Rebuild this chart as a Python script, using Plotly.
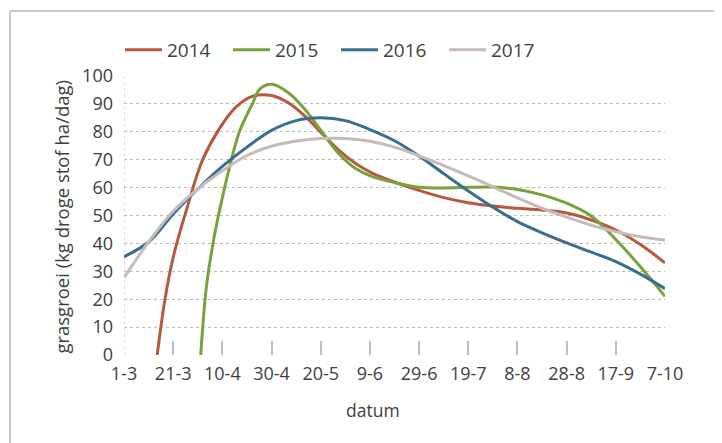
import plotly.graph_objects as go

# tick labels (every 20 days from 1 March)
tick_days = [0, 20, 40, 60, 80, 100, 120, 140, 160, 180, 200, 220]
tick_labels = ["1-3", "21-3", "10-4", "30-4", "20-5", "9-6", "29-6", "19-7", "8-8", "28-8", "17-9", "7-10"]

# days since 1 March and grass growth (kg droge stof/ha/dag)
days_2014 = [13.5, 16.6, 20, 25.4, 32, 39, 45.7, 52.4, 60, 66.8, 73.6, 80.3, 87.1, 93.9, 100.7,
             110, 120, 130, 140, 150, 160, 170, 180, 190, 200, 210, 220]
vals_2014 = [0, 19.6, 35, 52, 70, 81.4, 89, 92.8, 93, 90.4, 85.6, 79.6, 73.6, 68.8, 65.3,
             62.0, 59.0, 56.4, 54.6, 53.4, 52.6, 52.0, 50.9, 48.4, 44.8, 39.6, 33]

days_2015 = [31.2, 33.5, 36.2, 38.9, 43, 47, 52.4, 55.1, 60, 66.8, 73.6, 80.3, 87.1, 93.9, 100.7,
             110, 120, 130, 140, 150, 160, 170, 180, 190, 200, 210, 220]
vals_2015 = [0, 24.4, 40, 52, 67.6, 80.2, 90.4, 95.2, 97, 94, 88, 80.2, 72.4, 67, 64,
             61.8, 60.1, 59.9, 60.1, 60.2, 59.3, 57.4, 54.4, 49.8, 41.4, 31.6, 21]

days_2016 = [0, 10, 20, 30, 40, 50, 60, 70, 80, 90, 100, 110, 120, 130, 140, 150, 160, 170,
             180, 190, 200, 210, 220]
vals_2016 = [35.2, 40.5, 50.5, 59.5, 67.6, 74.5, 80.5, 84, 85, 84, 80.8, 76.8, 71.3, 65,
             58.8, 53, 47.8, 43.8, 40.2, 36.9, 33.5, 29, 23.8]

days_2017 = [0, 10, 20, 30, 40, 50, 60, 70, 80, 90, 100, 110, 120, 130, 140, 150, 160, 170,
             180, 190, 200, 210, 220]
vals_2017 = [27.7, 40.5, 51.5, 59.5, 66, 71.5, 74.8, 76.7, 77.6, 77.6, 76.6, 74.5, 71.4, 67.9,
             64.2, 60.3, 56.3, 52.6, 49.4, 46.5, 44.2, 42.4, 41.2]

series = [
    ("2014", days_2014, vals_2014, "#B65A3D"),
    ("2015", days_2015, vals_2015, "#7AA23C"),
    ("2016", days_2016, vals_2016, "#386E8E"),
    ("2017", days_2017, vals_2017, "#C6BBB6"),
]

fig = go.Figure()
for name, xs, ys, col in series:
    fig.add_trace(go.Scatter(x=xs, y=ys, name=name, mode="lines",
                             line=dict(color=col, width=3, shape="spline", smoothing=1.0)))

font_family = "Open Sans, Liberation Sans, sans-serif"
text_col = "#404040"
grid_col = "#BDBDBD"

fig.update_layout(
    width=714, height=435,
    margin=dict(l=116, r=57, t=68, b=88),
    paper_bgcolor="white", plot_bgcolor="white",
    font=dict(family=font_family, size=18, color=text_col),
    showlegend=True,
    legend=dict(orientation="h", x=-4 / 541, xanchor="left", y=1 + 26 / 279, yanchor="middle",
                font=dict(size=19, color=text_col), entrywidth=56, entrywidthmode="pixels",
                itemwidth=37, bgcolor="rgba(0,0,0,0)"),
    xaxis=dict(range=[0, 220], tickvals=tick_days, ticktext=tick_labels,
               showgrid=False, zeroline=False, showline=False,
               ticks="inside", ticklen=14, tickwidth=1.5, tickcolor=grid_col,
               ticklabelstandoff=6, tickfont=dict(size=18, color=text_col)),
    yaxis=dict(range=[0, 100], tickvals=list(range(0, 101, 10)),
               showgrid=True, gridcolor=grid_col, griddash="dot", gridwidth=1,
               zeroline=False, showline=False, ticks="",
               ticklabelstandoff=10, tickfont=dict(size=18, color=text_col)),
    annotations=[
        dict(text="grasgroei (kg droge stof ha/dag)", textangle=-90, showarrow=False,
             xref="paper", yref="paper", x=(62 - 124) / 541, y=0.496,
             xanchor="center", yanchor="middle", font=dict(size=18.5, color=text_col)),
        dict(text="datum", showarrow=False, xref="paper", yref="paper",
             x=(373 - 124) / 541, y=(355 - 410) / 279, xanchor="center", yanchor="middle",
             font=dict(size=17.5, color=text_col)),
    ],
    shapes=[
        dict(type="line", xref="x", yref="paper", x0=0, x1=0, y0=0, y1=1,
             line=dict(color=grid_col, width=1, dash="dot"), layer="below"),
        dict(type="line", xref="paper", yref="paper", x0=(10 - 124) / 541, x1=(730 - 124) / 541,
             y0=(355 - 11) / 279, y1=(355 - 11) / 279, line=dict(color="#C8C8C8", width=2)),
        dict(type="line", xref="paper", yref="paper", x0=(10 - 124) / 541, x1=(10 - 124) / 541,
             y0=(355 - 11) / 279, y1=(355 - 450) / 279, line=dict(color="#C8C8C8", width=2)),
    ],
)

fig.write_html("out.html")
